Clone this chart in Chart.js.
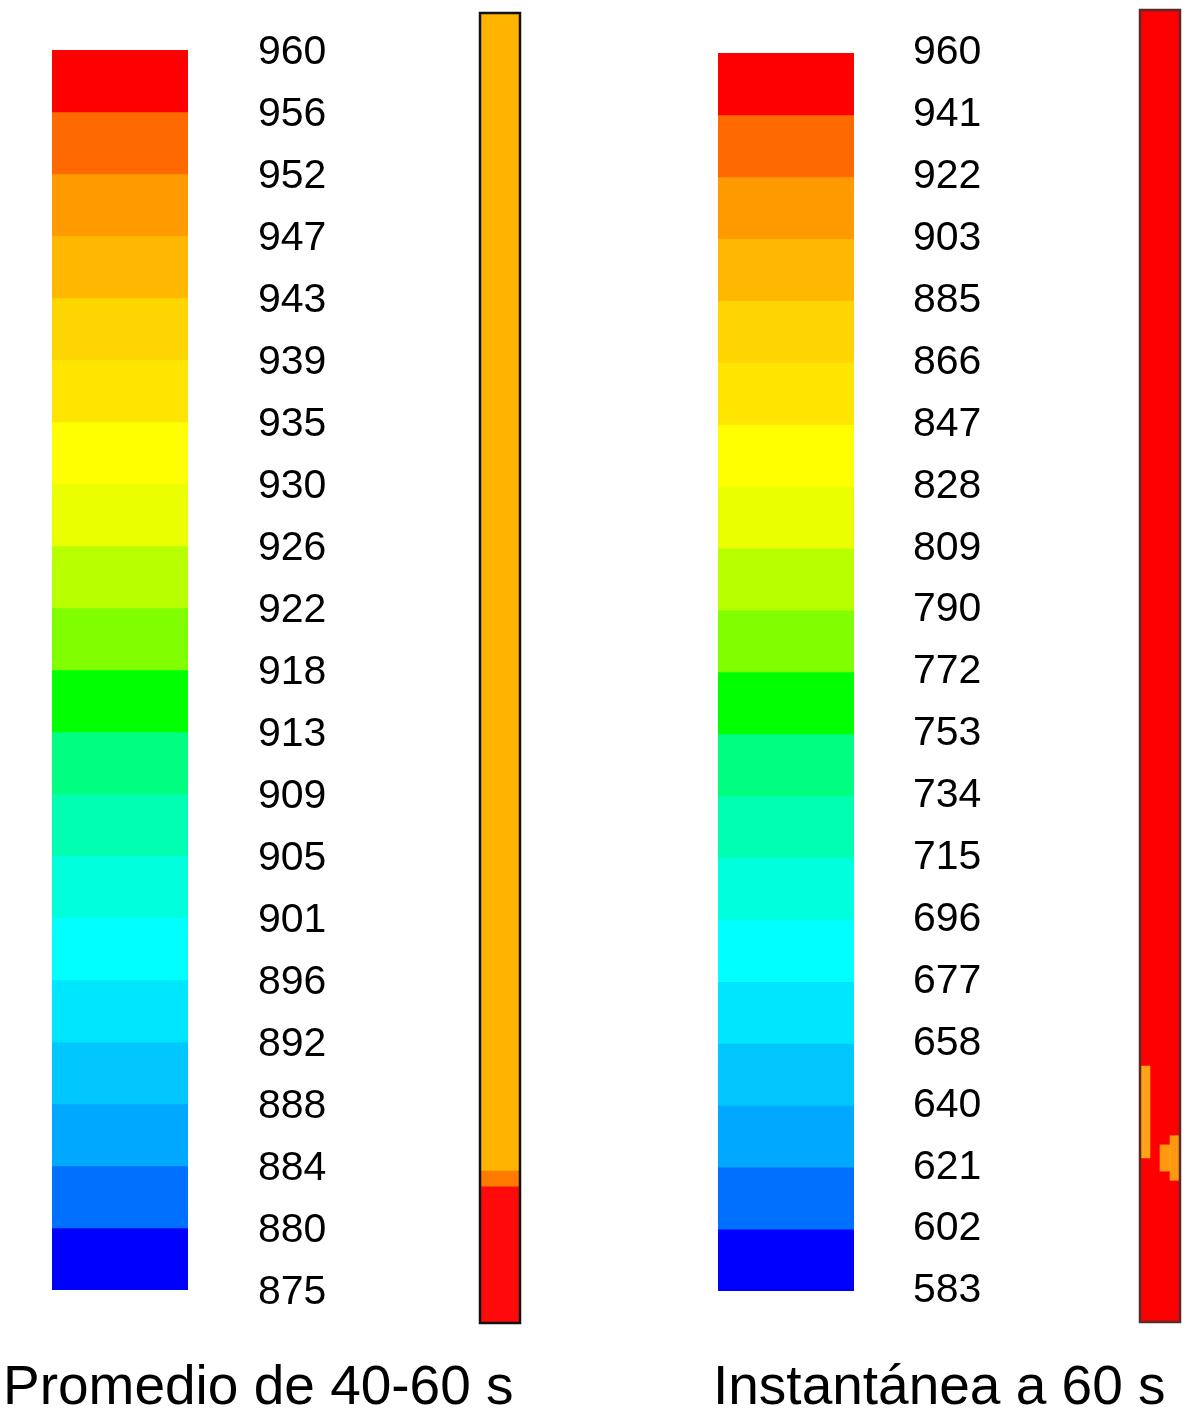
<!DOCTYPE html>
<html>
<head>
<meta charset="utf-8">
<script src="https://cdn.jsdelivr.net/npm/chart.js@4.4.1/dist/chart.umd.min.js"></script>
<style>
  html, body { margin: 0; padding: 0; background: #fff; }
  body { width: 1197px; height: 1418px; position: relative; overflow: hidden; }
  canvas { position: absolute; top: 0; }
  .title { position: absolute; top: 1358px; font-family: "Liberation Sans", Arial, sans-serif; font-size: 55px; line-height: 55px; color: #000; white-space: nowrap; }
</style>
</head>
<body>
<canvas id="cbLeft" width="338" height="1340" style="left:0px"></canvas>
<canvas id="stripLeft" width="60" height="1340" style="left:470px"></canvas>
<canvas id="cbRight" width="338" height="1340" style="left:666px"></canvas>
<canvas id="stripRight" width="60" height="1340" style="left:1130px"></canvas>
<div class="title" style="left:3px">Promedio de 40-60 s</div>
<div class="title" style="left:713px">Instantánea a 60 s</div>
<script>
// ---- Data ----
const leftTickLabels = ["960","956","952","947","943","939","935","930","926","922","918","913","909","905","901","896","892","888","884","880","875"];
const rightTickLabels = ["960","941","922","903","885","866","847","828","809","790","772","753","734","715","696","677","658","640","621","602","583"];
const bandColors = ["#FF0000","#FF6A00","#FF9A00","#FFB700","#FFD500","#FFE600","#FFFF00","#EAFF00","#B8FF00","#80FF00","#00FF00","#00FF80","#00FFB0","#00FFDC","#00FFFF","#00E6FF","#00C8FF","#00A8FF","#0070FF","#0000FF"];
const bandIndex = [0,1,2,3,4,5,6,7,8,9,10,11,12,13,14,15,16,17,18,19];

// strip profiles: fraction of strip height from bottom
const leftStripFrom   = [0.000, 0.104, 0.116];
const leftStripTo     = [0.104, 0.116, 1.000];
const leftStripColors = ["#FF0A0A", "#FF7A00", "#FFB500"];

const rightStripColumns = ["c1","c2","c3","c4"];
const rightStripBase    = [[0,1],[0,1],[0,1],[0,1]];
const rightPatchA       = [[0.125,0.195], null, null, null];
const rightPatchB       = [null, null, [0.115,0.135], [0.108,0.142]];

const FONT = "'Liberation Sans', Arial, sans-serif";

function placeArea(chart, targetTop, targetBottom) {
  for (let k = 0; k < 4; k++) {
    const a = chart.chartArea;
    const dT = a.top - targetTop, dB = targetBottom - a.bottom;
    if (Math.abs(dT) < 0.5 && Math.abs(dB) < 0.5) break;
    const p = chart.options.layout.padding;
    p.top -= dT; p.bottom -= dB;
    chart.update();
  }
}

function colorbar(id, labels, areaTop, areaBottom, tickPad, lblOff) {
  const datasets = bandIndex.map(i => ({
    data: [[i, i + 1]],
    backgroundColor: bandColors[i],
    borderWidth: 0,
    grouped: false,
    barPercentage: 1,
    categoryPercentage: 1
  }));
  const ch = new Chart(document.getElementById(id), {
    type: 'bar',
    data: { labels: ['bar'], datasets },
    options: {
      responsive: false, animation: false,
      layout: { padding: { left: 52, right: 0, top: areaTop, bottom: 1340 - areaBottom } },
      plugins: { legend: { display: false }, tooltip: { enabled: false } },
      scales: {
        x: { display: false },
        y: {
          position: 'right', reverse: true, min: 0, max: bandIndex.length,
          grid: { display: false, drawTicks: false },
          border: { display: false },
          afterFit: s => { s.width = 150; s.paddingTop = 0; s.paddingBottom = 0; },
          ticks: {
            stepSize: 1, autoSkip: false, padding: tickPad, color: '#000',
            labelOffset: lblOff,
            font: { family: FONT, size: 41 },
            callback: v => labels[v]
          }
        }
      }
    }
  });
  placeArea(ch, areaTop, areaBottom);
}

const borderPlugin = (color, w) => ({
  id: 'frame',
  afterDatasetsDraw(chart) {
    const a = chart.chartArea, ctx = chart.ctx;
    ctx.save();
    ctx.strokeStyle = color; ctx.lineWidth = w;
    ctx.strokeRect(a.left, a.top, a.right - a.left, a.bottom - a.top);
    ctx.restore();
  }
});

function strip(id, labels, datasets, areaTop, areaBottom, frameColor) {
  const ch = new Chart(document.getElementById(id), {
    type: 'bar',
    data: { labels, datasets: datasets.map(d => Object.assign({
      borderWidth: 0, grouped: false, barPercentage: 1, categoryPercentage: 1
    }, d)) },
    options: {
      responsive: false, animation: false,
      layout: { padding: { left: 10, right: 10, top: areaTop, bottom: 1340 - areaBottom } },
      plugins: { legend: { display: false }, tooltip: { enabled: false } },
      scales: {
        x: { display: false },
        y: { display: false, min: 0, max: 1 }
      }
    },
    plugins: [borderPlugin(frameColor, 2.5)]
  });
  placeArea(ch, areaTop, areaBottom);
}

colorbar('cbLeft', leftTickLabels, 50, 1290, 70, 3);
colorbar('cbRight', rightTickLabels, 53, 1291, 59, 0);

strip('stripLeft', ['s'], leftStripFrom.map((f, i) => ({
  data: [[f, leftStripTo[i]]], backgroundColor: leftStripColors[i]
})), 13, 1323, '#111');

// first dataset is painted on top
strip('stripRight', rightStripColumns, [
  { data: rightPatchA, backgroundColor: 'rgba(255,205,30,0.8)' },
  { data: rightPatchB, backgroundColor: 'rgba(255,190,20,0.8)' },
  { data: rightStripBase, backgroundColor: '#FF0000' }
], 10, 1322, '#5a2a2a');
</script>
</body>
</html>
